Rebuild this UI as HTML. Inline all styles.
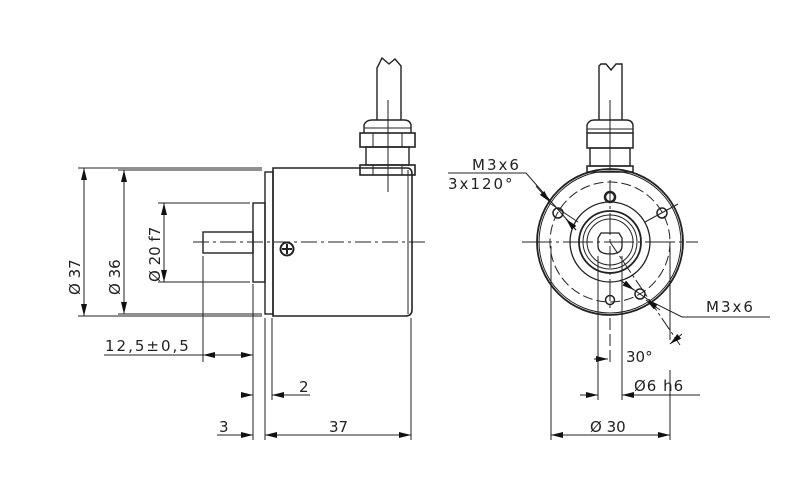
<!DOCTYPE html>
<html><head><meta charset="utf-8"><style>
html,body{margin:0;padding:0;background:#fff;}
svg{display:block;}
text{font-family:"DejaVu Sans","Liberation Sans",sans-serif;font-size:15px;fill:#222;}
</style></head><body>
<svg width="806" height="493" viewBox="0 0 806 493" xmlns="http://www.w3.org/2000/svg">
<defs>
<marker id="a" viewBox="0 0 12 6" refX="12" refY="3" markerWidth="12" markerHeight="6" orient="auto-start-reverse" markerUnits="userSpaceOnUse"><path d="M0,0 L12,3 L0,6 z" fill="#111"/></marker>
</defs>
<g fill="none" stroke="#222" stroke-width="1">
<!-- LEFT VIEW -->
<!-- body -->
<path d="M273,168 H407 Q412,168 412,174 V310 Q412,316 405,316 H273 Z" stroke-width="1.6"/>
<line x1="408" y1="170" x2="408" y2="314"/>
<rect x="265" y="172" width="8" height="142" stroke-width="1.4"/>
<rect x="253" y="203" width="12" height="79" stroke-width="1.4"/>
<rect x="203" y="232" width="50" height="21" stroke-width="1.4"/>
<line x1="193" y1="242" x2="427" y2="242" stroke-dasharray="16,4,3,4"/>
<circle cx="287" cy="249" r="6.5" stroke-width="2"/>
<line x1="282" y1="249" x2="292" y2="249" stroke-width="2"/><line x1="287" y1="244" x2="287" y2="254" stroke-width="2"/>
<!-- gland left -->
<rect x="360" y="165" width="55" height="10" stroke-width="1.6"/>
<line x1="373" y1="165" x2="373" y2="175"/><line x1="402" y1="165" x2="402" y2="175"/>
<rect x="366" y="147" width="43" height="18" stroke-width="1.4"/>
<rect x="360" y="133" width="55" height="14" stroke-width="1.6"/>
<line x1="373" y1="133" x2="373" y2="147"/><line x1="402" y1="133" x2="402" y2="147"/>
<path d="M364,133 V125 Q366,120 372,120 H404 Q410,120 411,125 V133" stroke-width="1.4"/>
<line x1="364" y1="128" x2="411" y2="128"/>
<path d="M377,120 V68 L382,58 L389,64 L395,59 L401,66 V120" stroke-width="1.4"/>
<line x1="388" y1="100" x2="388" y2="192"/>
<!-- ext lines -->
<line x1="78" y1="168" x2="262" y2="168"/><line x1="78" y1="316" x2="262" y2="316"/>
<line x1="118" y1="170" x2="262" y2="170"/><line x1="118" y1="314" x2="262" y2="314"/>
<line x1="158" y1="203" x2="250" y2="203"/><line x1="158" y1="282" x2="250" y2="282"/>
<line x1="84" y1="168" x2="84" y2="316" marker-start="url(#a)" marker-end="url(#a)"/>
<line x1="124" y1="170" x2="124" y2="314" marker-start="url(#a)" marker-end="url(#a)"/>
<line x1="164" y1="203" x2="164" y2="282" marker-start="url(#a)" marker-end="url(#a)"/>
<line x1="203" y1="256" x2="203" y2="362"/>
<line x1="253" y1="284" x2="253" y2="440"/>
<line x1="265" y1="318" x2="265" y2="440"/>
<line x1="272" y1="318" x2="272" y2="400"/>
<line x1="411" y1="318" x2="411" y2="440"/>
<line x1="104" y1="355" x2="203" y2="355"/>
<line x1="203" y1="355" x2="253" y2="355" marker-start="url(#a)" marker-end="url(#a)"/>
<line x1="245" y1="395" x2="253" y2="395" marker-end="url(#a)"/>
<line x1="310" y1="395" x2="272" y2="395" marker-end="url(#a)"/>
<line x1="217" y1="435" x2="253" y2="435" marker-end="url(#a)"/>
<line x1="265" y1="435" x2="411" y2="435" marker-start="url(#a)" marker-end="url(#a)"/>
<!-- RIGHT VIEW -->
<circle cx="610" cy="242" r="73" stroke-width="1.8"/>
<circle cx="610" cy="242" r="71"/>
<circle cx="610" cy="242" r="60" stroke-dasharray="10,4"/>
<circle cx="610" cy="242" r="40" stroke-width="1.3"/>
<circle cx="610" cy="242" r="31" stroke-width="1.8"/>
<circle cx="610" cy="242" r="27"/>
<circle cx="610" cy="242" r="23"/>
<path d="M601,233 H619 L622,238 V246 Q622,254 610,254 Q598,254 598,246 V238 Z" stroke-width="1.3"/>
<circle cx="558" cy="213" r="5" stroke-width="1.5"/>
<circle cx="662" cy="213" r="5" stroke-width="1.5"/>
<circle cx="640" cy="294" r="5" stroke-width="1.5"/>
<circle cx="610" cy="197" r="5" stroke-width="2.5"/>
<circle cx="610" cy="300" r="4.5" stroke-width="1.5"/>
<line x1="522" y1="242" x2="698" y2="242" stroke-dasharray="30,4,3,4"/>
<line x1="610" y1="180" x2="610" y2="310" stroke-dasharray="22,4,3,4"/>
<line x1="548" y1="202" x2="578" y2="222"/><line x1="645" y1="222" x2="678" y2="204"/>
<line x1="610" y1="242" x2="680" y2="345" stroke-dasharray="14,3,3,3"/>
<!-- gland right -->
<rect x="587" y="166" width="46" height="6" stroke-width="1.5"/>
<rect x="590" y="148" width="40" height="18" stroke-width="1.4"/>
<rect x="587" y="133" width="46" height="15" stroke-width="1.5"/>
<path d="M587,133 V125 Q589,120 594,120 H626 Q632,120 633,125 V133" stroke-width="1.4"/>
<line x1="587" y1="129" x2="633" y2="129"/>
<path d="M599,120 V66 L601,64 L606,64 L611,70 L616,64 L622,64 V120" stroke-width="1.4"/>
<line x1="610" y1="100" x2="610" y2="170"/>
<!-- leaders -->
<polyline points="448,173 526,173 576,230"/>
<line x1="536" y1="186" x2="550" y2="202" marker-end="url(#a)"/>
<line x1="576" y1="230" x2="566" y2="219" marker-end="url(#a)"/>
<polyline points="620,280 650,301 682,317 770,317"/>
<line x1="620" y1="280" x2="634" y2="290" marker-end="url(#a)"/>
<line x1="660" y1="310" x2="646" y2="300" marker-end="url(#a)"/>
<line x1="682" y1="334" x2="670" y2="344" marker-end="url(#a)"/>
<line x1="594" y1="359" x2="608" y2="359" marker-end="url(#a)"/>
<line x1="610" y1="318" x2="610" y2="364" stroke-dasharray="12,4"/>
<!-- dims right -->
<line x1="551" y1="246" x2="551" y2="440"/><line x1="670" y1="246" x2="670" y2="340"/><line x1="670" y1="370" x2="670" y2="440"/>
<line x1="598" y1="256" x2="598" y2="400"/><line x1="622" y1="256" x2="622" y2="400"/>
<line x1="580" y1="395" x2="598" y2="395" marker-end="url(#a)"/>
<line x1="700" y1="395" x2="622" y2="395" marker-end="url(#a)"/>
<line x1="551" y1="435" x2="670" y2="435" marker-start="url(#a)" marker-end="url(#a)"/>
</g>
<!-- texts -->
<g>
<text transform="translate(80,295) rotate(-90)" font-size="17">Ø 37</text>
<text transform="translate(120,295) rotate(-90)" font-size="17">Ø 36</text>
<text transform="translate(160,282) rotate(-90)" font-size="17">Ø 20  f7</text>
<text x="105" y="351" letter-spacing="2">12,5±0,5</text>
<text x="299" y="392">2</text>
<text x="219" y="432">3</text>
<text x="329" y="432">37</text>
<text x="472" y="170" letter-spacing="2">M3x6</text>
<text x="448" y="189" letter-spacing="2">3x120°</text>
<text x="706" y="312" letter-spacing="2">M3x6</text>
<text x="626" y="362" font-size="17">30°</text>
<text x="634" y="391" font-size="17" letter-spacing="1">Ø6  h6</text>
<text x="590" y="432" font-size="17">Ø 30</text>
</g>
</svg>
</body></html>
